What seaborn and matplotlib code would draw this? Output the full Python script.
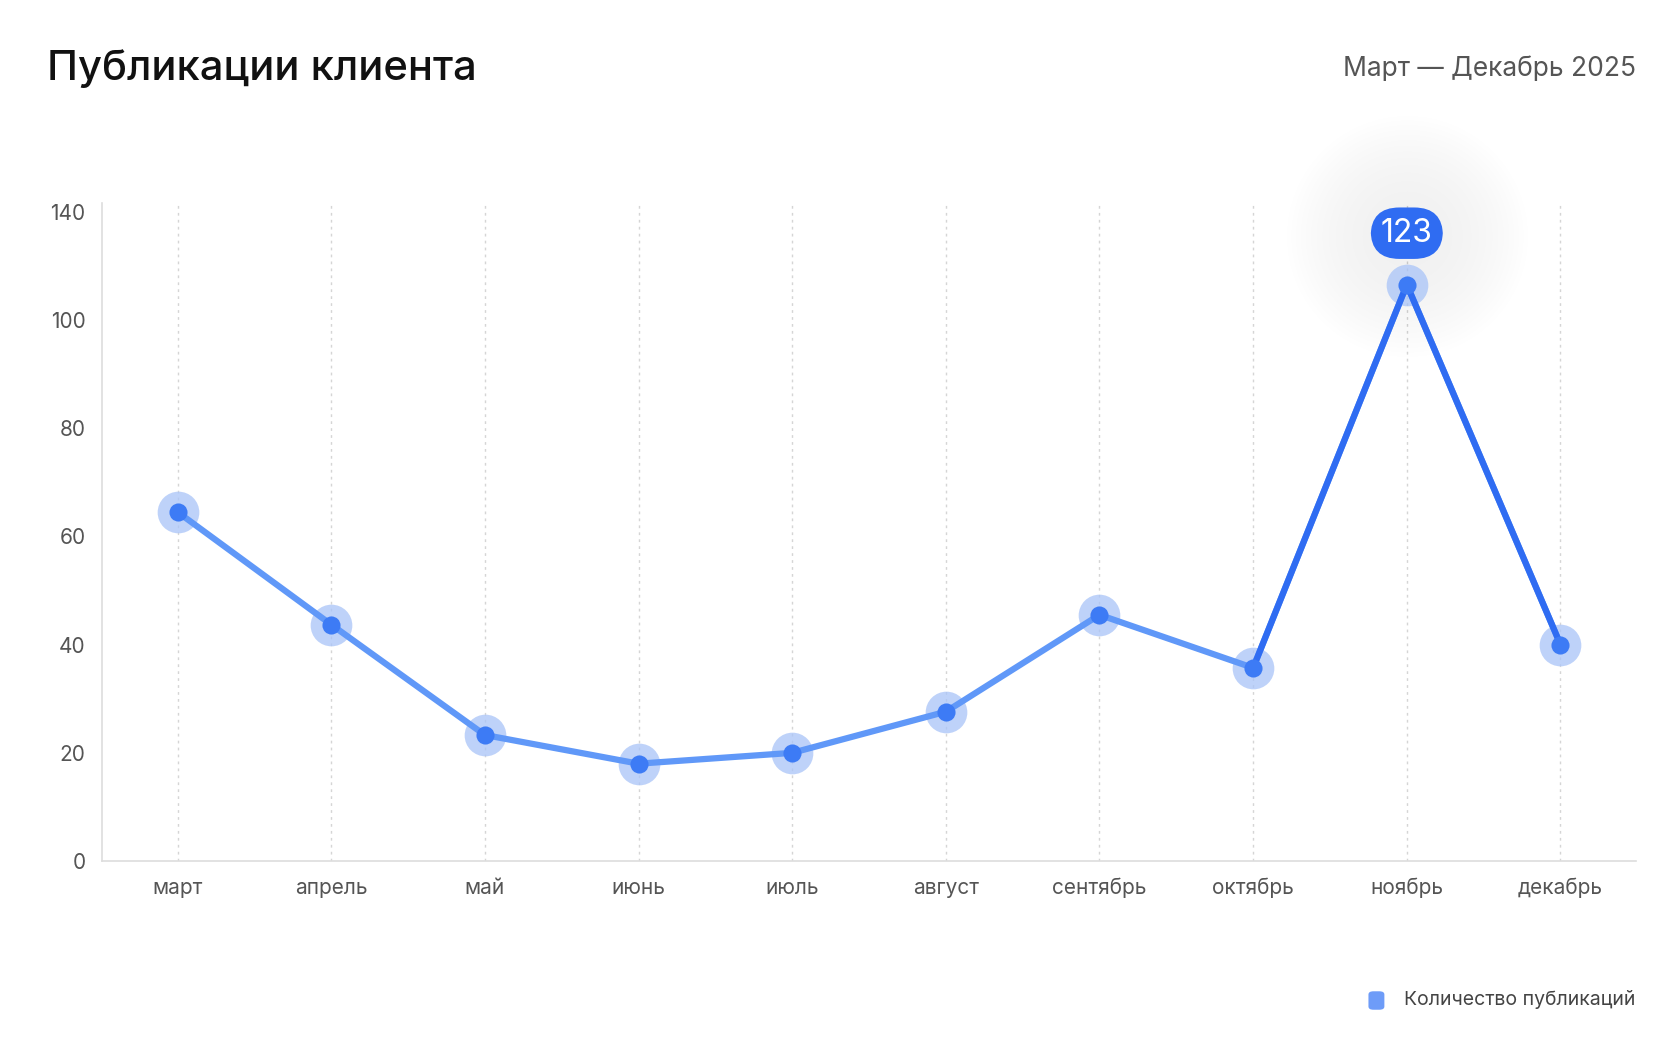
import matplotlib
matplotlib.use("Agg")
import matplotlib.pyplot as plt
import seaborn as sns
import pandas as pd
import numpy as np

months = ["март","апрель","май","июнь","июль","август","сентябрь","октябрь","ноябрь","декабрь"]
values = [64.5, 43.7, 23.3, 18.0, 20.0, 27.6, 45.5, 35.7, 106.5, 40.0]
peak_label = "123"
ytick_pos = [0, 20, 40, 60, 80, 100, 120]
ytick_lab = ["0", "20", "40", "60", "80", "100", "140"]

sns.set_theme(style="white")
plt.rcParams['font.family'] = ['Inter', 'DejaVu Sans']

df = pd.DataFrame({"x": np.arange(len(months)), "y": values})
fig = plt.figure(figsize=(16.76, 10.54), dpi=100)
ax = fig.add_axes([0.061, 0.183, 0.915, 0.624])

light = "#6098F8"
dark = "#2F6CF2"
pk = int(np.argmax(values))
sns.lineplot(data=df, x="x", y="y", ax=ax, color=light, lw=4.5, zorder=3)
sub = df.iloc[pk-1:pk+2]
sns.lineplot(data=sub, x="x", y="y", ax=ax, color=dark, lw=4.5, zorder=4)
ax.scatter(df.x, df.y, s=900, color="#A9C4F8", alpha=0.75, zorder=2, lw=0)
ax.scatter(df.x, df.y, s=170, color="#3D7BF5", zorder=5, lw=0)

# soft glow near peak
for r in np.linspace(30000, 2000, 14):
    ax.scatter([pk], [values[pk] + 9], s=r, color="#9A9A9A", alpha=0.008, lw=0, zorder=1, clip_on=False)
ax.text(pk, values[pk] + 9.5, peak_label, ha="center", va="center", fontsize=23, color="white", zorder=6,
        bbox=dict(boxstyle="round,pad=0.32,rounding_size=0.9", fc=dark, ec="none")).set_clip_on(False)

ax.set_xlim(-0.49, 9.49)
ax.set_ylim(0, 121.5)
ax.set_xticks(df.x)
ax.set_xticklabels(months, fontsize=15, color="#555555")
ax.set_yticks(ytick_pos)
ax.set_yticklabels(ytick_lab, fontsize=15, color="#555555")
ax.tick_params(length=0, pad=12)
for x in df.x:
    ax.axvline(x, color="#D5D5D5", lw=1, ls=(0, (2, 3)), zorder=0)
for s in ["top", "right"]:
    ax.spines[s].set_visible(False)
for s in ["left", "bottom"]:
    ax.spines[s].set_color("#DDDDDD")
    ax.spines[s].set_linewidth(1.2)
ax.set_xlabel(""); ax.set_ylabel("")

fig.text(0.028, 0.935, "Публикации клиента", fontsize=30, color="#111111", va="center", fontweight="medium")
fig.text(0.976, 0.935, "Март — Декабрь 2025", fontsize=19, color="#555555", va="center", ha="right")
fig.text(0.976, 0.052, "Количество публикаций", fontsize=14, color="#444444", va="center", ha="right")
fig.patches.append(matplotlib.patches.FancyBboxPatch((0.8165, 0.042), 0.0095, 0.0175,
    boxstyle="round,pad=0,rounding_size=0.003", transform=fig.transFigure, fc="#6E9CF8", ec="none"))
fig.savefig("out.png", dpi=100, facecolor="white")
